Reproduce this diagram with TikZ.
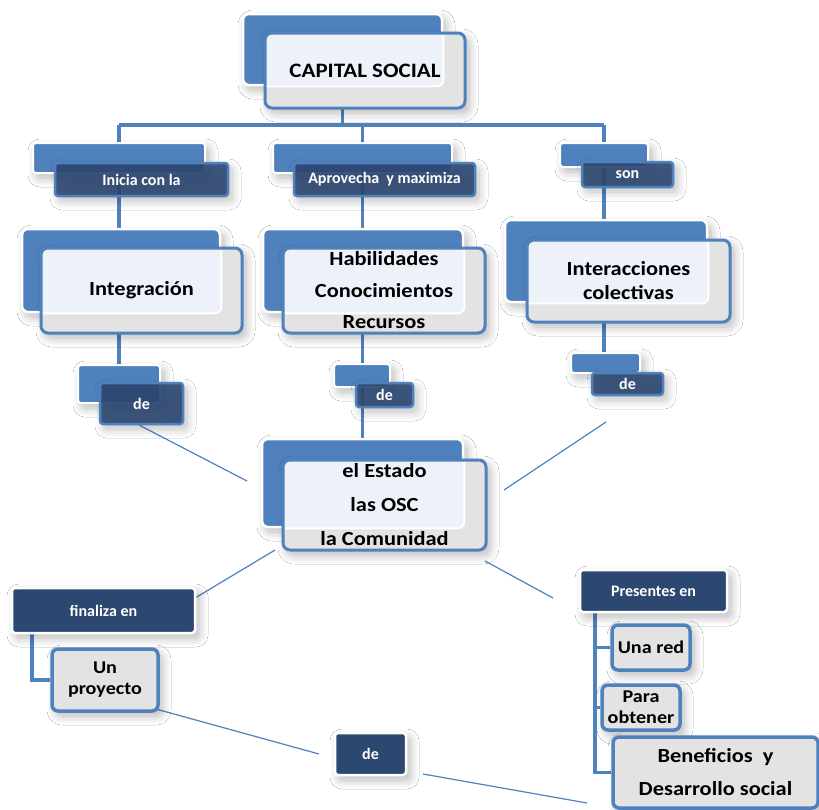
\documentclass[tikz,border=0pt]{standalone}
\usepackage{fontspec}
\setmainfont{Carlito}
\newfontfamily\cfont{Carlito}[FakeStretch=1.12]
\usetikzlibrary{shadows.blur}
\definecolor{blueA}{HTML}{4F81BD}
\definecolor{darkB}{HTML}{2C4770}
\definecolor{lightF}{HTML}{ECF1FA}
\definecolor{grayF}{HTML}{E3E3E3}
\pgfdeclarelayer{bg}
\pgfsetlayers{bg,main}
\begin{document}
\begin{tikzpicture}[x=1pt,y=-1pt,
 shd/.style={blur shadow={shadow xshift=4pt,shadow yshift=-5pt,shadow blur radius=9pt,shadow blur steps=12,shadow opacity=28}},
 backbox/.style={shd,fill=blueA,draw=white,line width=2.5pt,rounded corners=6pt,inner sep=0pt},
 frontbox/.style={shd,fill=grayF,draw=blueA,line width=3pt,rounded corners=7pt,inner sep=0pt,align=center,
   font=\cfont\bfseries\fontsize{20}{24}\selectfont,
   path picture={\filldraw[fill=lightF,draw=white,line width=2pt,rounded corners=6pt]
     ([shift={(-20,-20)}]path picture bounding box.north west) rectangle (#1.south east);}},
 lback/.style={shd,fill=blueA,draw=white,line width=2pt,rounded corners=3pt,inner sep=0pt},
 lfront/.style={shd,fill=darkB,fill opacity=0.9,text opacity=1,draw=blueA,line width=2.5pt,rounded corners=3pt,
   text=white,font=\bfseries\fontsize{16}{19}\selectfont,inner sep=0pt},
 dbox/.style={shd,fill=darkB,draw=white,line width=2.5pt,rounded corners=3pt,text=white,
   font=\bfseries\fontsize{16}{19}\selectfont,inner sep=0pt},
 gbox/.style={shd,fill=grayF,draw=blueA,line width=3.5pt,rounded corners=6pt,inner sep=0pt,align=center,
   font=\cfont\bfseries\fontsize{18}{21}\selectfont},
 conn/.style={draw=blueA,line width=3.5pt},
 thinl/.style={draw=blueA,line width=1.2pt}
]
\useasboundingbox (0,0) rectangle (819,809);

% ---------- helper coordinates ----------
\coordinate (bar) at (0,125);
\coordinate (fx) at (32,0);
\coordinate (px) at (595,0);

% ---------- CAPITAL SOCIAL ----------
\node[backbox,minimum width=199,minimum height=71] (capb) at (342.5,49.5) {};
\node[frontbox=capb,minimum width=200,minimum height=75,font=\cfont\bfseries\fontsize{20.5}{24}\selectfont] (capf) at (365,70.5) {CAPITAL SOCIAL};

% ---------- linking phrases, row 1 ----------
\node[lback,minimum width=172,minimum height=30] (inib) at (119,158) {};
\node[lfront,minimum width=173,minimum height=33] (inif) at (141.5,179.5) {Inicia con la};
\node[lback,minimum width=179,minimum height=30] (aprb) at (362.5,158) {};
\node[lfront,minimum width=181,minimum height=33] (aprf) at (384.5,179.5) {Aprovecha~ y maximiza};
\node[lback,minimum width=88,minimum height=24] (sonb) at (604,155) {};
\node[lfront,minimum width=91,minimum height=25] (sonf) at (627.5,174.5) {son};

% ---------- concepts, row 2 ----------
\node[backbox,minimum width=198,minimum height=83] (intb) at (121,270.5) {};
\node[frontbox=intb,minimum width=201,minimum height=85] (intf) at (141.5,290.5) {Integración};
\node[backbox,minimum width=200,minimum height=83] (habb) at (363,270.5) {};
\node[frontbox=habb,minimum width=202,minimum height=85,font=\cfont\bfseries\fontsize{20}{31.5}\selectfont] (habf) at (384,290.5) {Habilidades\\Conocimientos\\Recursos};
\node[backbox,minimum width=202,minimum height=82] (itcb) at (606,261) {};
\node[frontbox=itcb,minimum width=203,minimum height=82] (itcf) at (628.5,281) {Interacciones\\colectivas};

% ---------- "de" linking phrases ----------
\node[lback,minimum width=82,minimum height=38] (dlb) at (119,384) {};
\node[lfront,minimum width=83,minimum height=41] (dlf) at (141.5,403.5) {de};
\node[lback,minimum width=56,minimum height=23] (dmb) at (362,375.5) {};
\node[lfront,minimum width=57,minimum height=24] (dmf) at (384.5,395) {de};
\node[lback,minimum width=69,minimum height=20] (drb) at (605.5,363) {};
\node[lfront,minimum width=71,minimum height=22] (drf) at (627.5,384) {de};

% ---------- el Estado ----------
\node[backbox,minimum width=201,minimum height=88] (estb) at (362.5,483) {};
\node[frontbox=estb,minimum width=203,minimum height=90,font=\cfont\bfseries\fontsize{20}{34}\selectfont] (estf) at (384.5,505) {el Estado\\las OSC\\la Comunidad};

% ---------- lower part ----------
\node[dbox,minimum width=183,minimum height=45] (fin) at (103.5,610.5) {finaliza en};
\node[gbox,minimum width=106,minimum height=62] (proy) at (105,680) {Un\\proyecto};
\node[dbox,minimum width=147,minimum height=42] (pres) at (653.5,591) {Presentes en};
\node[gbox,minimum width=78,minimum height=45] (red) at (651,647.5) {Una red};
\node[gbox,minimum width=78,minimum height=45] (para) at (641,707.5) {Para\\obtener};
\node[gbox,minimum width=205,minimum height=71,font=\cfont\bfseries\fontsize{20}{33}\selectfont] (ben) at (715.5,772.5) {Beneficios~ y\\Desarrollo social};
\node[dbox,minimum width=71,minimum height=42] (deb) at (370.5,754) {de};

% ---------- thin connector end points ----------
\coordinate (t1a) at (139,425);  \coordinate (t1b) at (247,481);
\coordinate (t2a) at (606,422);  \coordinate (t2b) at (504,490);
\coordinate (t3a) at (275,550);  \coordinate (t3b) at (195,598);
\coordinate (t4a) at (485,561);  \coordinate (t4b) at (553,598);
\coordinate (t5a) at (145,706);  \coordinate (t5b) at (319,754);
\coordinate (t6a) at (423,774);  \coordinate (t6b) at (587,803);

% ---------- connectors (behind) ----------
\begin{pgfonlayer}{bg}
\fill[white] (0,0) rectangle (819,809);
\draw[conn] (capb.south) -- (capb.south |- bar);
\draw[conn] (inib.north |- bar) -- (sonb.north |- bar);
\draw[conn] (inib.north |- bar) -- (inib |- dlb.north);
\draw[conn] (aprb.north |- bar) -- (aprb |- estb.north);
\draw[conn] (sonb.north |- bar) -- (sonb |- drb.north);
\draw[conn] (fin.south -| fx) |- (proy.west);
\draw[conn] (pres.south -| px) |- (ben.west);
\draw[conn] (px |- red.west) -- (red.west);
\draw[conn] (px |- para.west) -- (para.west);
\draw[thinl] (t1a) -- (t1b);
\draw[thinl] (t2a) -- (t2b);
\draw[thinl] (t3a) -- (t3b);
\draw[thinl] (t4a) -- (t4b);
\draw[thinl] (t5a) -- (t5b);
\draw[thinl] (t6a) -- (t6b);
\end{pgfonlayer}
\end{tikzpicture}
\end{document}
